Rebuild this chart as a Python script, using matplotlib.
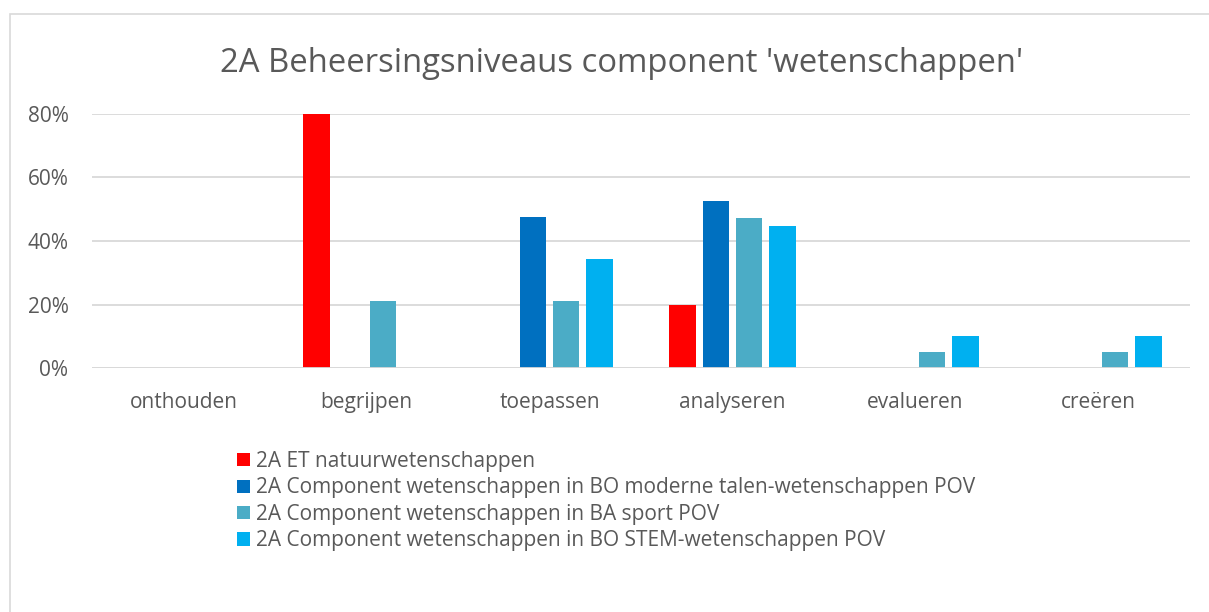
import matplotlib
matplotlib.use("Agg")
import matplotlib.pyplot as plt
from matplotlib.patches import Patch, Rectangle
from matplotlib.ticker import PercentFormatter
import numpy as np

categories = ["onthouden", "begrijpen", "toepassen", "analyseren", "evalueren", "creëren"]
series_names = [
    "2A ET natuurwetenschappen",
    "2A Component wetenschappen in BO moderne talen-wetenschappen POV",
    "2A Component wetenschappen in BA sport POV",
    "2A Component wetenschappen in BO STEM-wetenschappen POV",
]
et_natuur = [0.0, 0.80, 0.0, 0.20, 0.0, 0.0]
bo_talen = [0.0, 0.0, 0.475, 0.525, 0.0, 0.0]
ba_sport = [0.0, 0.2105, 0.2105, 0.4737, 0.0526, 0.0526]
bo_stem = [0.0, 0.0, 0.3448, 0.4483, 0.1034, 0.1034]
colors = ["#FF0000", "#0070C0", "#4BACC6", "#00B0F0"]
title = "2A Beheersingsniveaus component 'wetenschappen'"

plt.rcParams['font.family'] = ['Open Sans', 'DejaVu Sans']
text_color = "#595959"
grid_color = "#D9D9D9"

fig = plt.figure(figsize=(12.09, 6.12), dpi=100)
ax = fig.add_axes([0.0761, 0.3979, 0.9082, 0.4166])

x = np.arange(len(categories))
step = 0.182
width = 0.145
all_series = [et_natuur, bo_talen, ba_sport, bo_stem]
for i, (vals, col) in enumerate(zip(all_series, colors)):
    ax.bar(x + (i - 1.5) * step, vals, width=width, color=col, zorder=3)

ax.set_xlim(-0.5, len(categories) - 0.5)
ax.set_ylim(0, 0.8)
ax.set_yticks([0, 0.2, 0.4, 0.6, 0.8])
ax.yaxis.set_major_formatter(PercentFormatter(1.0, decimals=0))
ax.set_xticks(x)
ax.set_xticklabels(categories)
ax.tick_params(axis='both', length=0, labelsize=15, colors=text_color)
ax.tick_params(axis='y', pad=17)
ax.tick_params(axis='x', pad=17)
ax.grid(axis='y', color=grid_color, linewidth=1.3, zorder=0)
for s in ax.spines.values():
    s.set_visible(False)
ax.axhline(0, color=grid_color, linewidth=1.3, zorder=4)

fig.text(621.5 / 1209, 0.897, title, ha='center', va='center', fontsize=23.7, color=text_color)

handles = [Patch(facecolor=c, edgecolor='none') for c in colors]
leg = fig.legend(handles, series_names, loc='upper left', bbox_to_anchor=(237 / 1209, 0.263),
                 frameon=False, fontsize=15, labelcolor=text_color,
                 handlelength=0.6, handleheight=0.6, handletextpad=0.33,
                 labelspacing=0.26, borderaxespad=0, borderpad=0)

fig.patches.append(Rectangle((10 / 1209, -0.1), 1.2, 1 - 14 / 612 + 0.1,
                             transform=fig.transFigure, fill=False,
                             edgecolor=grid_color, linewidth=1.2))

fig.savefig("out.png", dpi=100, facecolor='white')
